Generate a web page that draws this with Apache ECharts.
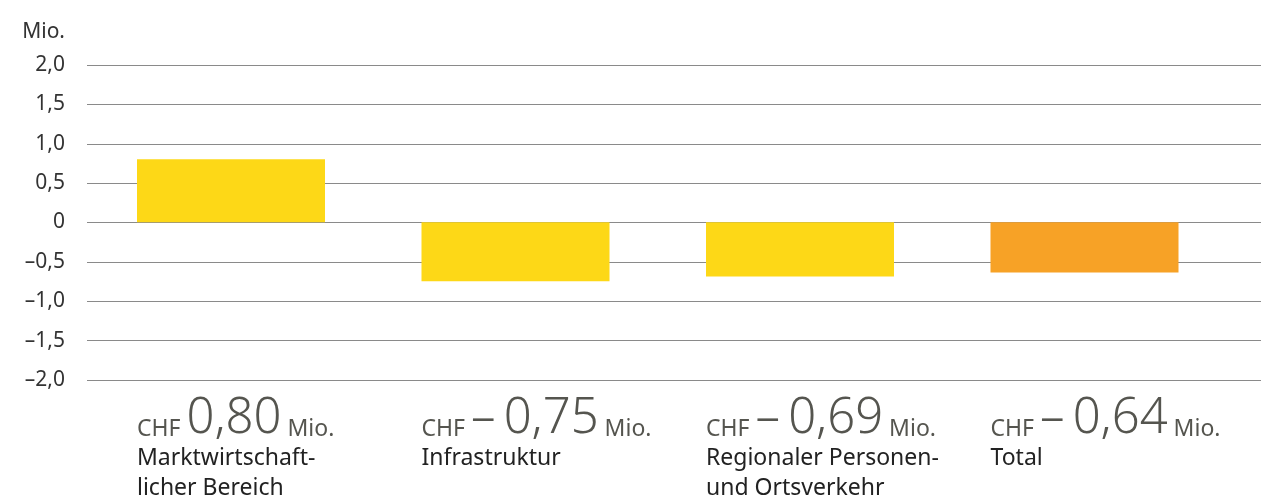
<!DOCTYPE html>
<html>
<head>
<meta charset="utf-8">
<script src="https://cdn.jsdelivr.net/npm/echarts@6/dist/echarts.min.js"></script>
<style>
  html, body { margin: 0; padding: 0; background: #fff; }
  #chart { width: 1261px; height: 500px; }
</style>
</head>
<body>
<div id="chart"></div>
<script>
// Kategorien und Werte (Mio. CHF)
const categories = ['Marktwirtschaft-\nlicher Bereich', 'Infrastruktur', 'Regionaler Personen-\nund Ortsverkehr', 'Total']
const values = [0.80, -0.75, -0.69, -0.64]

const fmtNum = (v, digits, gap) => {
  if (v === 0) return '0'
  return (v < 0 ? '\u2013' + (gap || '') : '') + Math.abs(v).toFixed(digits).replace('.', ',')
}

let myChart = echarts.init(document.getElementById('chart'))
let option = {
  animation: false,
  grid: [
    // Raster mit y-Achse ueber ganze Breite
    { left: 87, right: 0, top: 65, bottom: 120 },
    // Balken
    { left: 88.75, right: 34.25, top: 65, bottom: 120 }
  ],
  xAxis: [
    { gridIndex: 0, type: 'value', min: 0, max: 1, show: false },
    {
      gridIndex: 1,
      type: 'category',
      data: categories,
      axisLine: { show: false },
      axisTick: { show: false },
      axisLabel: {
        margin: 16,
        width: 188,
        overflow: 'none',
        align: 'center',
        verticalAlign: 'top',
        formatter: (name, idx) => {
          let lines = name.split('\n').map(l => '{t|' + l + '}').join('\n')
          return '{c|CHF }{n|' + fmtNum(values[idx], 2, '\u2009') + '}{m| Mio.}\n' + lines
        },
        rich: {
          c: { align: 'left', fontFamily: 'Noto Sans', fontSize: 23, color: '#55554f', lineHeight: 48, verticalAlign: 'bottom', padding: [0, 0, 3, 0] },
          n: { align: 'left', fontFamily: 'Noto Sans', fontSize: 49, fontWeight: 300, color: '#55554f', lineHeight: 48, verticalAlign: 'bottom' },
          m: { align: 'left', fontFamily: 'Noto Sans', fontSize: 23, color: '#55554f', lineHeight: 48, verticalAlign: 'bottom', padding: [0, 0, 3, 0] },
          t: { align: 'left', fontFamily: 'Noto Sans', fontSize: 23, color: '#222', lineHeight: 30 }
        }
      }
    }
  ],
  yAxis: [
    {
      gridIndex: 0,
      type: 'value',
      min: -2,
      max: 2,
      interval: 0.5,
      name: 'Mio.',
      nameLocation: 'end',
      nameGap: 22,
      nameTextStyle: { fontFamily: 'Noto Sans', fontSize: 21, color: '#333', align: 'right', padding: [0, 22, 0, 0] },
      axisLine: { show: false },
      axisTick: { show: false },
      axisLabel: {
        margin: 22,
        fontFamily: 'Noto Sans',
        fontSize: 21,
        color: '#333',
        formatter: v => fmtNum(v, 1)
      },
      splitLine: { lineStyle: { color: '#8a8a8a', width: 1.2 } }
    },
    { gridIndex: 1, type: 'value', min: -2, max: 2, show: false }
  ],
  series: [{
    type: 'bar',
    xAxisIndex: 1,
    yAxisIndex: 1,
    barWidth: 188,
    data: values,
    itemStyle: {
      color: p => p.dataIndex === values.length - 1 ? '#f7a226' : '#fdd817'
    }
  }]
}
myChart.setOption(option)
</script>
</body>
</html>
